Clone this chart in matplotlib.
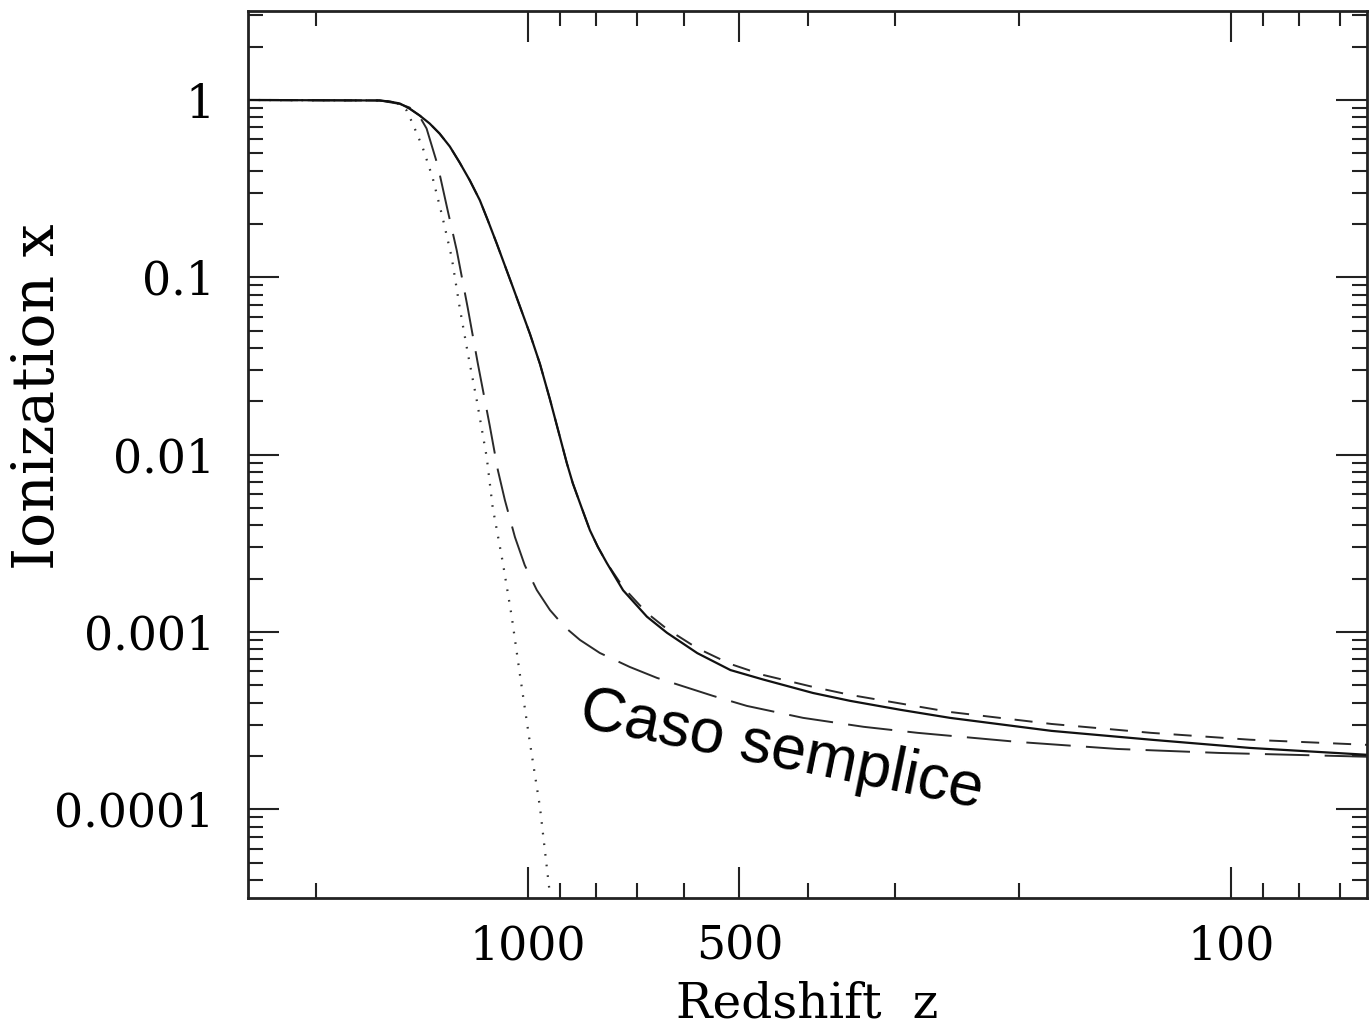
import numpy as np
import matplotlib.pyplot as plt
from matplotlib.ticker import FixedLocator, FixedFormatter, NullFormatter, LogLocator

plt.rcParams['lines.scale_dashes'] = False

# values: redshift z and ionization fraction x
z_full = [2500, 1625, 1572, 1521, 1473, 1425, 1379, 1335, 1291, 1250, 1209, 1170, 1140, 1107,
          1050, 993, 961, 930, 900, 880, 863, 838, 816, 795, 772, 732, 677, 634, 574, 515, 463,
          393, 348, 295, 251, 180, 130, 94, 64]
x_full = [1.0, 0.994, 0.98, 0.956, 0.895, 0.818, 0.737, 0.647, 0.547, 0.444, 0.352, 0.272,
          0.21, 0.155, 0.088, 0.048, 0.0325, 0.0205, 0.01255, 0.00896, 0.0069, 0.0050, 0.00375,
          0.00302, 0.00245, 0.00172, 0.00122, 0.00099, 0.00076, 0.00061, 0.00054, 0.000453,
          0.000409, 0.000364, 0.000328, 0.000277, 0.000247, 0.000222, 0.000203]

z_short = [2500, 1625, 1572, 1521, 1473, 1425, 1379, 1335, 1291, 1250, 1209, 1170, 1140, 1107,
           1050, 993, 961, 930, 900, 880, 863, 838, 816, 795, 772, 732, 677, 634, 574, 515, 463,
           393, 348, 251, 180, 130, 94, 64]
x_short = [1.0, 0.994, 0.98, 0.956, 0.895, 0.818, 0.737, 0.647, 0.547, 0.444, 0.352, 0.272,
           0.21, 0.155, 0.088, 0.048, 0.0325, 0.0205, 0.01255, 0.00896, 0.0069, 0.0050, 0.00375,
           0.00302, 0.00245, 0.00179, 0.00128, 0.00104, 0.00081, 0.00066, 0.000573, 0.00049,
           0.000442, 0.000354, 0.000303, 0.00027, 0.000247, 0.000231]

z_long = [2500, 1625, 1521, 1473, 1425, 1393, 1343, 1300, 1262, 1217, 1178, 1133, 1103, 1078,
          1043, 1010, 971, 930, 886, 843, 790, 716, 655, 545, 488, 406, 333, 279, 201, 145,
          104, 64]
x_long = [1.0, 0.994, 0.95, 0.907, 0.807, 0.691, 0.4276, 0.2385, 0.142, 0.0669, 0.0328, 0.01466,
          0.00818, 0.00555, 0.00343, 0.00238, 0.001725, 0.00133, 0.001067, 0.000902, 0.000762,
          0.000635, 0.000551, 0.000436, 0.000383, 0.000328, 0.000292, 0.00027, 0.00024,
          0.000219, 0.000208, 0.000198]

z_saha = [2500, 1625, 1537, 1487, 1458, 1411, 1366, 1322, 1283, 1250, 1217, 1182, 1144, 1122,
          1085, 1054, 1026, 993, 961, 930]
x_saha = [1.0, 0.994, 0.968, 0.873, 0.737, 0.540, 0.366, 0.218, 0.1296, 0.0678, 0.0373, 0.0203,
          0.00968, 0.00506, 0.00245, 0.00122, 0.000573, 0.000237, 0.000103, 3.3e-5]

x_major = [1000, 500, 100]
x_labels = ['1000', '500', '100']
x_minor = [2000, 900, 800, 700, 600, 400, 300, 200, 90, 80, 70]
y_major = [1e-4, 1e-3, 1e-2, 1e-1, 1]
y_labels = ['0.0001', '0.001', '0.01', '0.1', '1']

fig = plt.figure(figsize=(13.7, 10.31), dpi=100)
ax = fig.add_axes([0.181, 0.129, 0.817, 0.860])

ax.plot(z_saha, x_saha, color='#333333', lw=1.6, linestyle=(0, (1.2, 6.5)))
ax.plot(z_long, x_long, color='#2a2a2a', lw=1.4, linestyle=(0, (32, 11)))
ax.plot(z_short, x_short, color='#2a2a2a', lw=1.4, linestyle=(0, (13, 10)))
ax.plot(z_full, x_full, color='#111111', lw=1.6)

ax.set_xscale('log')
ax.set_yscale('log')
ax.set_xlim(2500, 64)
ax.set_ylim(10 ** -4.5, 10 ** 0.5)

ax.xaxis.set_major_locator(FixedLocator(x_major))
ax.xaxis.set_major_formatter(FixedFormatter(x_labels))
ax.xaxis.set_minor_locator(FixedLocator(x_minor))
ax.xaxis.set_minor_formatter(NullFormatter())
ax.yaxis.set_major_locator(FixedLocator(y_major))
ax.yaxis.set_major_formatter(FixedFormatter(y_labels))
ax.yaxis.set_minor_locator(LogLocator(base=10, subs=np.arange(2, 10)))
ax.yaxis.set_minor_formatter(NullFormatter())

ax.tick_params(which='both', direction='in', top=True, right=True, width=1.5, color='#222222')
ax.tick_params(which='major', length=22)
ax.tick_params(which='minor', length=11)
ax.tick_params(axis='x', which='major', pad=19)
ax.tick_params(axis='y', which='major', pad=24)
for lab in ax.get_xticklabels() + ax.get_yticklabels():
    lab.set_fontfamily('DejaVu Serif')
    lab.set_fontsize(33)
for sp in ax.spines.values():
    sp.set_linewidth(2.0)
    sp.set_color('#222222')

ax.set_xlabel('Redshift  z', fontfamily='DejaVu Serif', fontsize=35, labelpad=8)
ax.set_ylabel('Ionization x', fontfamily='DejaVu Serif', fontsize=42)
ax.yaxis.set_label_coords(-0.163, 0.565)

ax.text(435, 2.14e-4, 'Caso semplice', fontfamily='Liberation Sans', fontsize=45,
        rotation=-11.5, rotation_mode='anchor', ha='center', va='center')

fig.savefig('out.png', dpi=100)
